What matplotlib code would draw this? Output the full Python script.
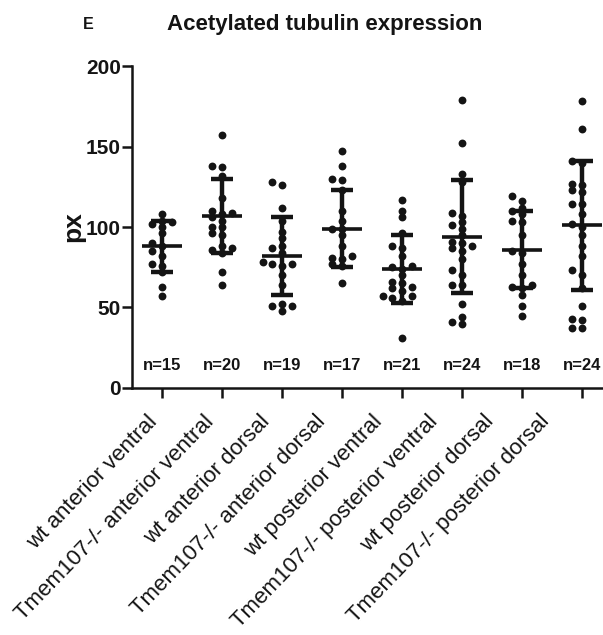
import numpy as np
import matplotlib
matplotlib.use("Agg")
import matplotlib.pyplot as plt
from matplotlib.transforms import ScaledTranslation

plt.rcParams['font.family'] = ['Liberation Sans', 'DejaVu Sans']

# ---- data ----
groups = [
    'wt anterior ventral',
    'Tmem107-/- anterior ventral',
    'wt anterior dorsal',
    'Tmem107-/- anterior dorsal',
    'wt posterior ventral',
    'Tmem107-/- posterior ventral',
    'wt posterior dorsal',
    'Tmem107-/- posterior dorsal',
]

wt_ant_ventral = [108, 104, 103, 102, 100, 96, 90, 88, 85, 82, 77, 76, 72, 63, 57]
ko_ant_ventral = [157, 138, 137, 132, 118, 110, 109, 108, 106, 104, 100, 96, 100,
                  95, 88, 87, 86, 84, 72, 64]
wt_ant_dorsal = [128, 126, 112, 104, 97, 93, 88, 87, 84, 78, 77, 77, 76, 70, 64,
                 52, 51, 51, 48]
ko_ant_dorsal = [147, 138, 130, 129, 123, 110, 104, 99, 99, 95, 88, 82, 81, 80, 77,
                 76, 65]
wt_post_ventral = [117, 110, 106, 96, 88, 87, 82, 76, 75, 74, 70, 66, 65, 63, 62,
                   60, 57, 57, 56, 54, 31]
ko_post_ventral = [179, 152, 133, 128, 109, 107, 103, 101, 99, 95, 91, 90, 88, 87,
                   85, 80, 73, 70, 64, 64, 52, 44, 41, 40]
wt_post_dorsal = [119, 116, 112, 110, 108, 104, 103, 95, 85, 84, 77, 70, 64, 63,
                  62, 58, 51, 45]
ko_post_dorsal = [178, 161, 141, 140, 127, 126, 123, 122, 114, 114, 108, 102, 100,
                  95, 88, 82, 73, 70, 62, 51, 43, 42, 37, 37]

values = [wt_ant_ventral, ko_ant_ventral, wt_ant_dorsal, ko_ant_dorsal,
          wt_post_ventral, ko_post_ventral, wt_post_dorsal, ko_post_dorsal]

means = [88, 107, 82, 99, 74, 94, 86, 101]
sds = [16, 23, 24, 24, 21, 35, 24, 40]
n_labels = ['n=15', 'n=20', 'n=19', 'n=17', 'n=21', 'n=24', 'n=18', 'n=24']


def swarm(vals, thresh=4.0, step=0.16):
    # simple beeswarm: spread points that overlap vertically
    order = np.argsort(vals)
    placed = []
    offs = np.zeros(len(vals))
    for i in order:
        v = vals[i]
        for c in [0, -step, step, -2 * step, 2 * step]:
            if all(abs(v - pv) >= thresh or abs(c - pc) > step * 0.9
                   for pv, pc in placed):
                offs[i] = c
                placed.append((v, c))
                break
    return offs


fig = plt.figure(figsize=(6.03, 6.35), dpi=100)
ax = fig.add_axes([0.219, 0.389, 0.796, 0.507])

ink = '#141414'
for i, vals in enumerate(values):
    xpos = i + 1
    vals = np.array(vals, dtype=float)
    ax.scatter(xpos + swarm(vals), vals, s=32, color=ink, zorder=2,
               linewidths=0)
    ax.errorbar(xpos, means[i], yerr=sds[i], fmt='none', ecolor=ink,
                elinewidth=3.2, capsize=8, capthick=3.2, zorder=3)
    ax.hlines(means[i], xpos - 0.33, xpos + 0.33, color=ink, lw=2.6,
              zorder=3)
    ax.text(xpos, 14, n_labels[i], ha='center', va='center', fontsize=12,
            fontweight='bold', color=ink)

ax.set_xlim(0.5, 8.5)
ax.set_ylim(0, 200)
ax.set_yticks([0, 50, 100, 150, 200])
ax.set_xticks(range(1, len(groups) + 1))
ax.set_xticklabels(groups, rotation=46, ha='right', rotation_mode='anchor',
                   fontsize=16, color=ink)
ax.tick_params(axis='y', labelsize=15, width=1.8, length=7, pad=1, colors=ink)
ax.tick_params(axis='x', width=1.8, length=7, pad=6, colors=ink)
for lab in ax.get_yticklabels():
    lab.set_fontweight('bold')
# in the original the rotated labels drift a little left of their ticks
for k, lab in enumerate(ax.get_xticklabels()):
    shift = ScaledTranslation(-0.15 - 0.04 * k, -0.05, fig.dpi_scale_trans)
    lab.set_transform(lab.get_transform() + shift)

for side in ['top', 'right']:
    ax.spines[side].set_visible(False)
for side in ['left', 'bottom']:
    ax.spines[side].set_linewidth(1.8)
    ax.spines[side].set_color(ink)

ax.set_ylabel('px', fontsize=19, fontweight='bold', color=ink)
ax.yaxis.set_label_coords(-0.097, 0.5)

fig.text(0.539, 0.962, 'Acetylated tubulin expression', ha='center',
         va='center', fontsize=16, fontweight='bold', color=ink)
fig.text(0.146, 0.962, 'E', ha='center', va='center', fontsize=11.5,
         fontweight='bold', color=ink)

fig.savefig('out.png', dpi=100)
